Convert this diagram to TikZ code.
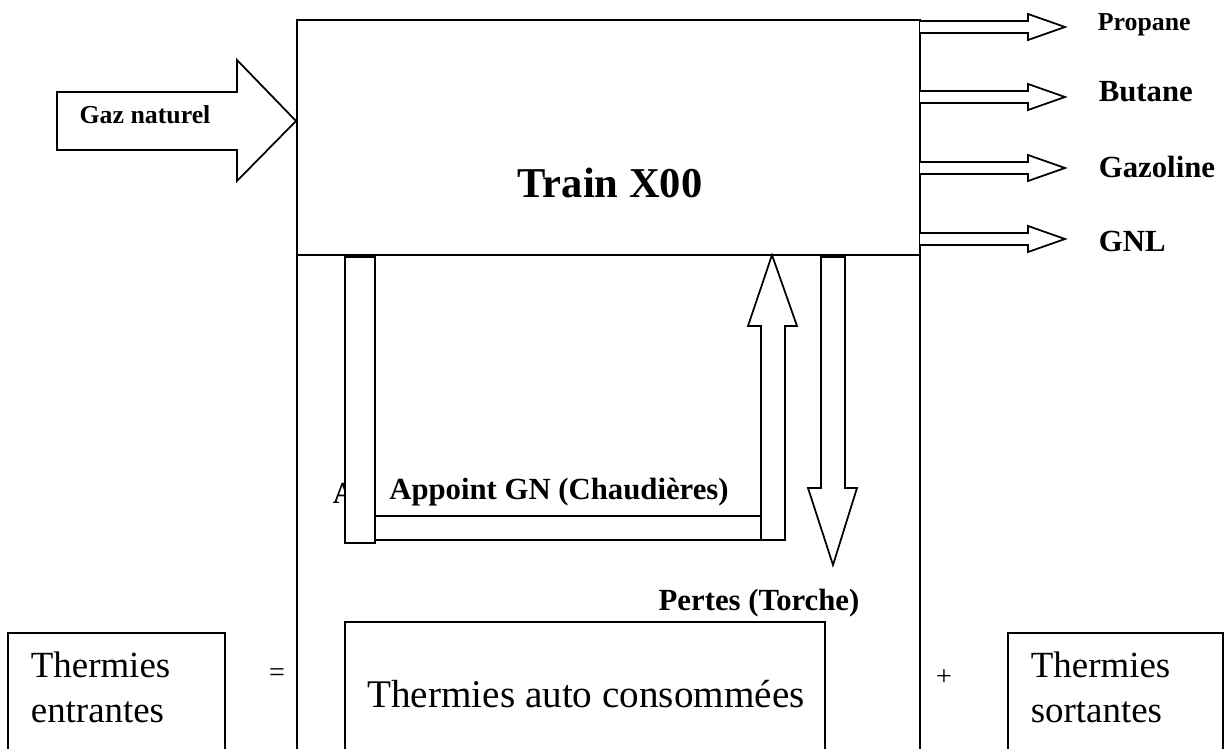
\documentclass[tikz,border=0pt]{standalone}
\usepackage{fontspec}
\setmainfont{Liberation Serif}
\usetikzlibrary{fit}

\begin{document}
\begin{tikzpicture}[
  x=0.02cm, y=-0.02cm, line width=1pt,
  box/.style={draw, inner sep=0pt},
  fat/.style={draw, fill=white, line join=miter},
  lbl/.style={font=\bfseries\fontsize{17.5}{21}\selectfont, inner sep=0pt},
  small/.style={font=\bfseries\fontsize{14.7}{18}\selectfont, inner sep=0pt},
  big/.style={font=\fontsize{21}{25.5}\selectfont, align=left, inner sep=0pt}
]
  \clip (0,0) rectangle (1227,749);

  % train and balance frame
  \node[box, fit={(297,20) (920,255)}] (train) {};
  \node[box, fit={(297,255) (920,780)}] (bilan) {};
  \node[font=\bfseries\fontsize{24.2}{28}\selectfont, inner sep=0pt] (trainlbl) at (610,183) {Train X00};

  % feed
  \draw[fat] (57,92) -- (237,92) -- (237,60) -- (296,121) -- (237,181) -- (237,150) -- (57,150) -- cycle;
  \node[small] (gaz) at (145,115) {Gaz naturel};

  % products
  \foreach \c in {27,97,168,239}
    \draw[fat] (920,\c-6) -- (1028,\c-6) -- (1028,\c-13) -- (1065,\c) -- (1028,\c+13) -- (1028,\c+6) -- (920,\c+6);
  \node[small, anchor=west] (propane) at (1097,25) {Propane};
  \node[lbl, anchor=west] (butane) at (1098,92) {Butane};
  \node[lbl, anchor=west] (gazoline) at (1098,167) {Gazoline};
  \node[lbl, anchor=west] (gnl) at (1098,241) {GNL};

  % internal loops
  \node[lbl] (stray) at (344,493) {A};
  \node[box, fill=white, fit={(345,257) (375,543)}] (retour) {};
  \node[box, fill=white, fit={(375,516) (761,540)}] (liaison) {};
  \draw[fat] (761,540) -- (761,326) -- (748,326) -- (772,255) -- (797,326) -- (785,326) -- (785,540) -- cycle;
  \draw[fat] (821,257) -- (845,257) -- (845,488) -- (857,488) -- (833,565) -- (808,488) -- (821,488) -- cycle;
  \node[lbl] (appoint) at (559,492) {Appoint GN (Chaudières)};
  \node[lbl] (pertes) at (759,603) {Pertes (Torche)};

  % balance
  \node[box, fit={(8,633) (225,780)}] (entrbox) {};
  \node[big, anchor=north west] (entr) at (30,651) {Thermies\\entrantes};
  \node[font=\fontsize{16}{19}\selectfont] (egal) at (277,675) {=};
  \node[box, fit={(345,622) (825,780)}] (autobox) {};
  \node[big, font=\fontsize{22.3}{26}\selectfont] (auto) at (586,694) {Thermies auto consommées};
  \node[font=\fontsize{16}{19}\selectfont] (plus) at (944,678) {+};
  \node[box, fit={(1008,633) (1223,780)}] (sortbox) {};
  \node[big, anchor=north west] (sort) at (1030,651) {Thermies\\sortantes};
\end{tikzpicture}
\end{document}
